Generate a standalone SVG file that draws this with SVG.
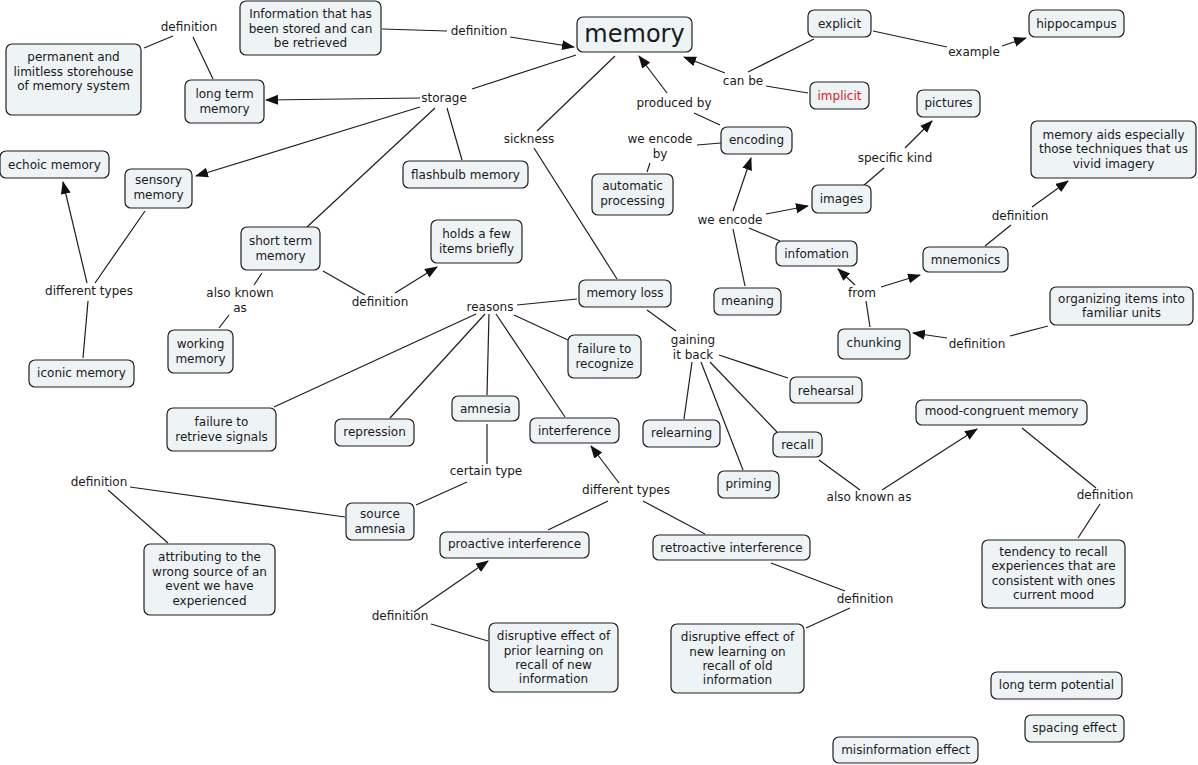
<svg xmlns="http://www.w3.org/2000/svg" width="1198" height="765" viewBox="0 0 1198 765">
<style>
text{font-family:"DejaVu Sans",Verdana,sans-serif;font-size:12px;fill:#1a1a1a;text-anchor:middle}
.n rect{fill:#eef3f6;stroke:#1e1e1e;stroke-width:1.2}
#links line{stroke:#1e1e1e;stroke-width:1.2;fill:none}
#links line.a{marker-end:url(#ah)}
</style>
<defs>
<marker id="ah" markerUnits="userSpaceOnUse" markerWidth="14" markerHeight="12" refX="12" refY="5" orient="auto">
<path d="M0,0 L13,5 L0,10 z" fill="#111"/>
</marker>
</defs>
<rect width="1198" height="765" fill="#fff"/>
<g id="links">
<line x1="382" y1="29" x2="447" y2="31"/>
<line class="a" x1="510" y1="37" x2="574" y2="47"/>
<line x1="576" y1="55" x2="472" y2="89"/>
<line class="a" x1="420" y1="98" x2="266" y2="100"/>
<line class="a" x1="420" y1="107" x2="196" y2="176"/>
<line x1="435" y1="108" x2="307" y2="227"/>
<line x1="447" y1="108" x2="462" y2="160"/>
<line x1="213" y1="79" x2="193" y2="37"/>
<line x1="173" y1="36" x2="144" y2="48"/>
<line x1="615" y1="56" x2="537" y2="131"/>
<line x1="534" y1="148" x2="617" y2="279"/>
<line x1="720" y1="125" x2="694" y2="113"/>
<line class="a" x1="667" y1="93" x2="639" y2="56"/>
<line x1="814" y1="39" x2="748" y2="72"/>
<line x1="808" y1="93" x2="766" y2="86"/>
<line class="a" x1="725" y1="73" x2="684" y2="57"/>
<line x1="873" y1="31" x2="947" y2="47"/>
<line class="a" x1="1002" y1="46" x2="1026" y2="38"/>
<line x1="721" y1="143" x2="697" y2="145"/>
<line x1="650" y1="163" x2="647" y2="172"/>
<line x1="745" y1="286" x2="733" y2="229"/>
<line class="a" x1="733" y1="211" x2="751" y2="158"/>
<line class="a" x1="766" y1="214" x2="808" y2="206"/>
<line x1="749" y1="228" x2="780" y2="241"/>
<line x1="863" y1="186" x2="884" y2="168"/>
<line class="a" x1="905" y1="148" x2="932" y2="121"/>
<line x1="985" y1="246" x2="1011" y2="225"/>
<line class="a" x1="1032" y1="207" x2="1068" y2="181"/>
<line x1="870" y1="327" x2="866" y2="301"/>
<line class="a" x1="855" y1="285" x2="838" y2="269"/>
<line class="a" x1="881" y1="287" x2="920" y2="275"/>
<line x1="1048" y1="326" x2="1010" y2="336"/>
<line class="a" x1="947" y1="338" x2="913" y2="333"/>
<line x1="145" y1="211" x2="95" y2="283"/>
<line x1="83" y1="358" x2="88" y2="301"/>
<line class="a" x1="87" y1="283" x2="63" y2="182"/>
<line x1="262" y1="273" x2="254" y2="285"/>
<line x1="229" y1="315" x2="219" y2="328"/>
<line x1="323" y1="271" x2="365" y2="295"/>
<line class="a" x1="395" y1="293" x2="437" y2="267"/>
<line x1="577" y1="299" x2="517" y2="305"/>
<line x1="514" y1="315" x2="568" y2="340"/>
<line x1="476" y1="314" x2="274" y2="407"/>
<line x1="485" y1="314" x2="390" y2="418"/>
<line x1="489" y1="314" x2="487" y2="395"/>
<line x1="496" y1="314" x2="565" y2="417"/>
<line x1="647" y1="310" x2="676" y2="331"/>
<line x1="719" y1="355" x2="788" y2="378"/>
<line x1="692" y1="362" x2="684" y2="419"/>
<line x1="701" y1="362" x2="743" y2="470"/>
<line x1="710" y1="362" x2="777" y2="432"/>
<line x1="487" y1="424" x2="487" y2="464"/>
<line x1="467" y1="482" x2="416" y2="505"/>
<line class="a" x1="619" y1="483" x2="591" y2="446"/>
<line x1="608" y1="501" x2="548" y2="530"/>
<line x1="643" y1="501" x2="705" y2="534"/>
<line x1="345" y1="517" x2="130" y2="487"/>
<line x1="108" y1="490" x2="168" y2="543"/>
<line class="a" x1="414" y1="612" x2="488" y2="561"/>
<line x1="431" y1="624" x2="488" y2="641"/>
<line x1="771" y1="563" x2="845" y2="591"/>
<line x1="850" y1="608" x2="806" y2="628"/>
<line x1="819" y1="460" x2="860" y2="490"/>
<line class="a" x1="882" y1="490" x2="977" y2="429"/>
<line x1="1022" y1="428" x2="1096" y2="488"/>
<line x1="1100" y1="504" x2="1078" y2="538"/>
</g>
<g id="labels">
<text x="189" y="31">definition</text>
<text x="479" y="35">definition</text>
<text x="444" y="102">storage</text>
<text x="529" y="143">sickness</text>
<text x="674" y="107">produced by</text>
<text x="743" y="85">can be</text>
<text x="974" y="56">example</text>
<text x="660" y="143">we encode</text>
<text x="660" y="158">by</text>
<text x="895" y="162">specific kind</text>
<text x="730" y="224">we encode</text>
<text x="1020" y="220">definition</text>
<text x="862" y="297">from</text>
<text x="977" y="348">definition</text>
<text x="89" y="295">different types</text>
<text x="240" y="297">also known</text>
<text x="240" y="312">as</text>
<text x="380" y="306">definition</text>
<text x="490" y="311">reasons</text>
<text x="693" y="344">gaining</text>
<text x="693" y="359">it back</text>
<text x="486" y="475">certain type</text>
<text x="626" y="494">different types</text>
<text x="869" y="501">also known as</text>
<text x="1105" y="499">definition</text>
<text x="99" y="486">definition</text>
<text x="400" y="620">definition</text>
<text x="865" y="603">definition</text>
</g>
<g id="memory" class="n"><rect x="577" y="17" width="115" height="35" rx="6"/><text x="634.5" y="42" style="font-size:24px">memory</text></g>
<g id="info" class="n"><rect x="240" y="1" width="141" height="54" rx="6"/><text x="310.5" y="18">Information that has</text><text x="310.5" y="33">been stored and can</text><text x="310.5" y="47">be retrieved</text></g>
<g id="permanent" class="n"><rect x="6" y="44" width="135" height="71" rx="6"/><text x="73.5" y="61">permanent and</text><text x="73.5" y="76">limitless storehouse</text><text x="73.5" y="90">of memory system</text></g>
<g id="ltm" class="n"><rect x="185" y="80" width="79" height="43" rx="6"/><text x="224.5" y="98">long term</text><text x="224.5" y="113">memory</text></g>
<g id="echoic" class="n"><rect x="0" y="151" width="109" height="27" rx="6"/><text x="54.5" y="169">echoic memory</text></g>
<g id="sensory" class="n"><rect x="125" y="169" width="67" height="39" rx="6"/><text x="158.5" y="184">sensory</text><text x="158.5" y="199">memory</text></g>
<g id="flashbulb" class="n"><rect x="403" y="161" width="125" height="27" rx="6"/><text x="465.5" y="179">flashbulb memory</text></g>
<g id="stm" class="n"><rect x="241" y="227" width="79" height="43" rx="6"/><text x="280.5" y="245">short term</text><text x="280.5" y="260">memory</text></g>
<g id="holds" class="n"><rect x="431" y="220" width="91" height="43" rx="6"/><text x="476.5" y="238">holds a few</text><text x="476.5" y="253">items briefly</text></g>
<g id="working" class="n"><rect x="168" y="330" width="65" height="43" rx="6"/><text x="200.5" y="348">working</text><text x="200.5" y="363">memory</text></g>
<g id="iconic" class="n"><rect x="29" y="360" width="105" height="27" rx="6"/><text x="81.5" y="377">iconic memory</text></g>
<g id="explicit" class="n"><rect x="808" y="10" width="63" height="27" rx="6"/><text x="839.5" y="28">explicit</text></g>
<g id="implicit" class="n"><rect x="810" y="82" width="59" height="27" rx="6"/><text x="839.5" y="100" style="fill:#e0201c">implicit</text></g>
<g id="hippocampus" class="n"><rect x="1029" y="10" width="95" height="27" rx="6"/><text x="1076.5" y="28">hippocampus</text></g>
<g id="encoding" class="n"><rect x="721" y="127" width="71" height="27" rx="6"/><text x="756.5" y="144">encoding</text></g>
<g id="automatic" class="n"><rect x="592" y="174" width="81" height="41" rx="6"/><text x="632.5" y="190">automatic</text><text x="632.5" y="205">processing</text></g>
<g id="pictures" class="n"><rect x="917" y="90" width="63" height="27" rx="6"/><text x="948.5" y="107">pictures</text></g>
<g id="aids" class="n"><rect x="1031" y="121" width="165" height="57" rx="6"/><text x="1113.5" y="139">memory aids especially</text><text x="1113.5" y="153">those techniques that us</text><text x="1113.5" y="168">vivid imagery</text></g>
<g id="images" class="n"><rect x="812" y="185" width="59" height="28" rx="6"/><text x="841.5" y="203">images</text></g>
<g id="infomation" class="n"><rect x="776" y="241" width="81" height="25" rx="6"/><text x="816.5" y="258">infomation</text></g>
<g id="mnemonics" class="n"><rect x="923" y="247" width="85" height="25" rx="6"/><text x="965.5" y="264">mnemonics</text></g>
<g id="meaning" class="n"><rect x="714" y="288" width="67" height="27" rx="6"/><text x="747.5" y="305">meaning</text></g>
<g id="memloss" class="n"><rect x="579" y="280" width="92" height="27" rx="6"/><text x="625" y="297">memory loss</text></g>
<g id="organizing" class="n"><rect x="1050" y="287" width="143" height="38" rx="6"/><text x="1121.5" y="303">organizing items into</text><text x="1121.5" y="317">familiar units</text></g>
<g id="chunking" class="n"><rect x="838" y="329" width="72" height="30" rx="6"/><text x="874" y="347">chunking</text></g>
<g id="recognize" class="n"><rect x="568" y="335" width="73" height="43" rx="6"/><text x="604.5" y="353">failure to</text><text x="604.5" y="368">recognize</text></g>
<g id="retrieve" class="n"><rect x="167" y="408" width="109" height="43" rx="6"/><text x="221.5" y="426">failure to</text><text x="221.5" y="441">retrieve signals</text></g>
<g id="repression" class="n"><rect x="335" y="419" width="79" height="27" rx="6"/><text x="374.5" y="436">repression</text></g>
<g id="amnesia" class="n"><rect x="452" y="396" width="67" height="25" rx="6"/><text x="485.5" y="413">amnesia</text></g>
<g id="interference" class="n"><rect x="530" y="418" width="89" height="25" rx="6"/><text x="574.5" y="435">interference</text></g>
<g id="rehearsal" class="n"><rect x="790" y="377" width="72" height="26" rx="6"/><text x="826" y="395">rehearsal</text></g>
<g id="relearning" class="n"><rect x="643" y="420" width="77" height="27" rx="6"/><text x="681.5" y="437">relearning</text></g>
<g id="recall" class="n"><rect x="773" y="432" width="49" height="25" rx="6"/><text x="797.5" y="449">recall</text></g>
<g id="priming" class="n"><rect x="718" y="471" width="61" height="27" rx="6"/><text x="748.5" y="488">priming</text></g>
<g id="mood" class="n"><rect x="916" y="400" width="171" height="25" rx="6"/><text x="1001.5" y="415">mood-congruent memory</text></g>
<g id="source" class="n"><rect x="346" y="503" width="68" height="37" rx="6"/><text x="380" y="518">source</text><text x="380" y="533">amnesia</text></g>
<g id="proactive" class="n"><rect x="440" y="532" width="149" height="26" rx="6"/><text x="514.5" y="548">proactive interference</text></g>
<g id="retroactive" class="n"><rect x="653" y="535" width="157" height="25" rx="6"/><text x="731.5" y="552">retroactive interference</text></g>
<g id="attributing" class="n"><rect x="144" y="544" width="131" height="71" rx="6"/><text x="209.5" y="561">attributing to the</text><text x="209.5" y="576">wrong source of an</text><text x="209.5" y="590">event we have</text><text x="209.5" y="605">experienced</text></g>
<g id="tendency" class="n"><rect x="982" y="540" width="143" height="68" rx="6"/><text x="1053.5" y="556">tendency to recall</text><text x="1053.5" y="570">experiences that are</text><text x="1053.5" y="585">consistent with ones</text><text x="1053.5" y="599">current mood</text></g>
<g id="disprior" class="n"><rect x="489" y="623" width="129" height="69" rx="6"/><text x="553.5" y="640">disruptive effect of</text><text x="553.5" y="655">prior learning on</text><text x="553.5" y="669">recall of new</text><text x="553.5" y="683">information</text></g>
<g id="disnew" class="n"><rect x="671" y="624" width="133" height="69" rx="6"/><text x="737.5" y="641">disruptive effect of</text><text x="737.5" y="656">new learning on</text><text x="737.5" y="670">recall of old</text><text x="737.5" y="684">information</text></g>
<g id="ltp" class="n"><rect x="991" y="672" width="131" height="27" rx="6"/><text x="1056.5" y="689">long term potential</text></g>
<g id="spacing" class="n"><rect x="1025" y="715" width="99" height="27" rx="6"/><text x="1074.5" y="732">spacing effect</text></g>
<g id="misinfo" class="n"><rect x="833" y="737" width="145" height="26" rx="6"/><text x="905.5" y="754">misinformation effect</text></g>
</svg>
